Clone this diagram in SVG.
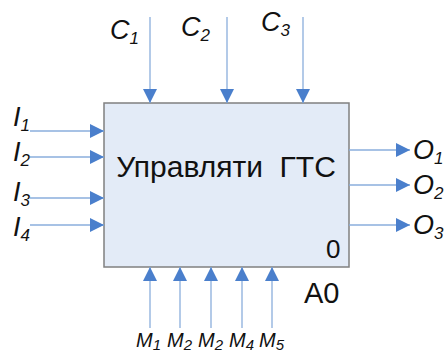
<svg xmlns="http://www.w3.org/2000/svg" width="447" height="354" viewBox="0 0 447 354">
<defs>
<style>
.ln{stroke:#8aaedc;stroke-width:1.3;fill:none}
.t{font-family:"Liberation Sans",Arial,sans-serif;fill:#111}
.lab{font-family:"Liberation Sans",Arial,sans-serif;font-style:italic;font-size:27px;fill:#111}
.sub{font-size:17px}
.ml{font-family:"Liberation Sans",Arial,sans-serif;font-style:italic;font-size:20px;fill:#111}
.msub{font-size:15px}
</style>
<marker id="ah2" viewBox="0 0 14 14" refX="14" refY="7" markerWidth="14" markerHeight="14" markerUnits="userSpaceOnUse" orient="auto"><path d="M0,0 L14,7 L0,14 Z" fill="#4a7fcc"/></marker>
</defs>
<g id="A0">
<rect x="104" y="103" width="245" height="164" fill="#e3ebf7" stroke="#808080" stroke-width="1.5"/>
<text class="t" x="226" y="177" font-size="30" text-anchor="middle" xml:space="preserve">Управляти  ГТС</text>
<text class="t" x="326" y="258" font-size="26">0</text>
<text class="t" x="304" y="303" font-size="29">A0</text>
</g>
<g id="connectors">
<line class="ln" x1="150" y1="17" x2="150" y2="103" marker-end="url(#ah2)"/>
<line class="ln" x1="227" y1="17" x2="227" y2="103" marker-end="url(#ah2)"/>
<line class="ln" x1="303" y1="17" x2="303" y2="103" marker-end="url(#ah2)"/>
<line class="ln" x1="30" y1="131" x2="104" y2="131" marker-end="url(#ah2)"/>
<line class="ln" x1="30" y1="157" x2="104" y2="157" marker-end="url(#ah2)"/>
<line class="ln" x1="30" y1="198" x2="104" y2="198" marker-end="url(#ah2)"/>
<line class="ln" x1="30" y1="225" x2="104" y2="225" marker-end="url(#ah2)"/>
<line class="ln" x1="349" y1="150" x2="410" y2="150" marker-end="url(#ah2)"/>
<line class="ln" x1="349" y1="185" x2="410" y2="185" marker-end="url(#ah2)"/>
<line class="ln" x1="349" y1="225" x2="410" y2="225" marker-end="url(#ah2)"/>
<line class="ln" x1="150" y1="328" x2="150" y2="267" marker-end="url(#ah2)"/>
<line class="ln" x1="180" y1="328" x2="180" y2="267" marker-end="url(#ah2)"/>
<line class="ln" x1="211" y1="328" x2="211" y2="267" marker-end="url(#ah2)"/>
<line class="ln" x1="242" y1="328" x2="242" y2="267" marker-end="url(#ah2)"/>
<line class="ln" x1="272" y1="328" x2="272" y2="267" marker-end="url(#ah2)"/>
</g>
<g id="labels">
<text class="lab" x="110" y="39">C<tspan class="sub" dy="5">1</tspan></text>
<text class="lab" x="181" y="36">C<tspan class="sub" dy="5">2</tspan></text>
<text class="lab" x="261" y="31">C<tspan class="sub" dy="5">3</tspan></text>
<text class="lab" x="13" y="126">I<tspan class="sub" dy="5">1</tspan></text>
<text class="lab" x="13" y="161">I<tspan class="sub" dy="5">2</tspan></text>
<text class="lab" x="13" y="201">I<tspan class="sub" dy="5">3</tspan></text>
<text class="lab" x="13" y="236">I<tspan class="sub" dy="5">4</tspan></text>
<text class="lab" x="413" y="159">O<tspan class="sub" dy="5">1</tspan></text>
<text class="lab" x="413" y="194">O<tspan class="sub" dy="5">2</tspan></text>
<text class="lab" x="413" y="234">O<tspan class="sub" dy="5">3</tspan></text>
<text class="ml" x="136" y="347">M<tspan class="msub" dy="3">1</tspan></text>
<text class="ml" x="167" y="347">M<tspan class="msub" dy="3">2</tspan></text>
<text class="ml" x="198" y="347">M<tspan class="msub" dy="3">2</tspan></text>
<text class="ml" x="229" y="347">M<tspan class="msub" dy="3">4</tspan></text>
<text class="ml" x="259" y="347">M<tspan class="msub" dy="3">5</tspan></text>
</g>
</svg>
